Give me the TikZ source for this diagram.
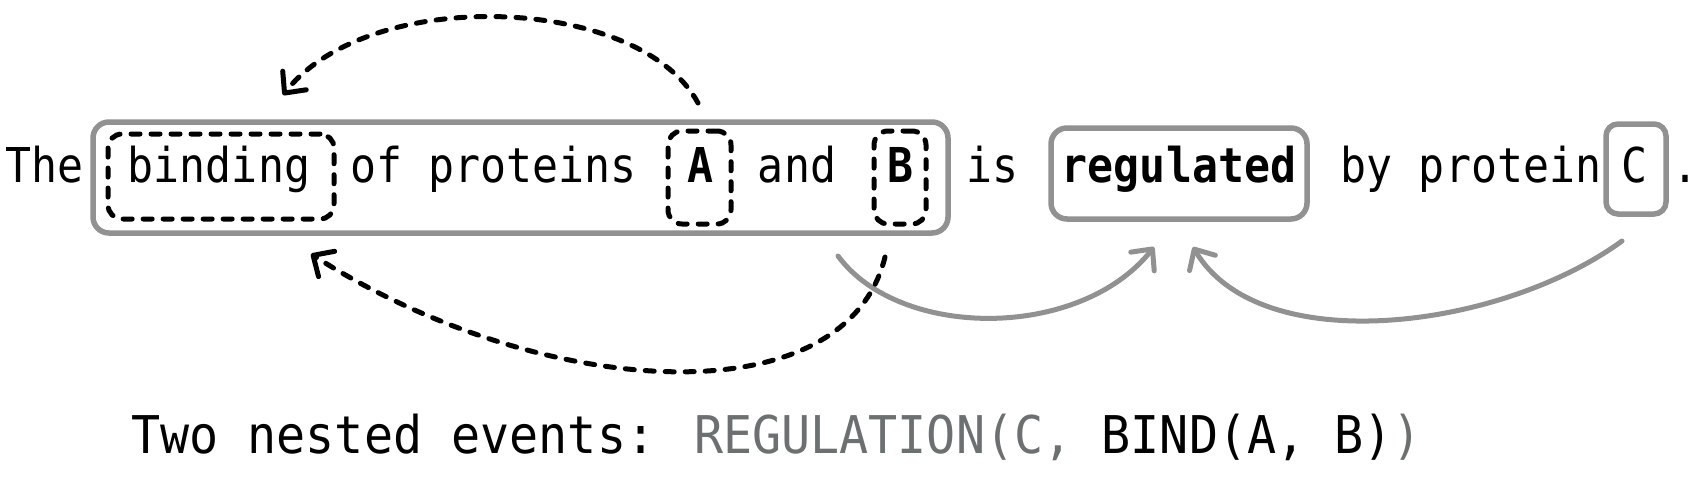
\documentclass[tikz,border=0pt]{standalone}
\usepackage{fontspec}
\usetikzlibrary{arrows.meta}
\newfontfamily\sentfont{DejaVu Sans Mono}[FakeStretch=0.9]
\newfontfamily\capfont{DejaVu Sans Mono}[FakeStretch=0.93]
\definecolor{boxgray}{RGB}{145,145,145}
\definecolor{fngray}{RGB}{108,112,112}
\begin{document}
\begin{tikzpicture}[x=1pt,y=-1pt,
  word/.style={anchor=base, inner sep=0pt, font=\sentfont\fontsize{48}{56}\selectfont},
  bword/.style={anchor=base, inner sep=0pt, font=\sentfont\bfseries\fontsize{48}{56}\selectfont},
  graybox/.style={draw=boxgray, line width=5.5pt, rounded corners=16pt, inner sep=0pt},
  dashbox/.style={draw=black, line width=5pt, rounded corners=14pt, inner sep=0pt, line cap=round, dash pattern=on 9pt off 11pt},
  dasharrow/.style={draw=black, line width=5pt, line cap=round, dash pattern=on 9pt off 11pt, -{Straight Barb[round,length=16pt,width=30pt]}},
  grayarrow/.style={draw=boxgray, line width=5pt, line cap=round, -{Straight Barb[round,length=16pt,width=30pt]}},
]
\useasboundingbox (0,0) rectangle (1696,482);
% boxes
\node[graybox, minimum width=855pt, minimum height=111pt] (big) at (520.5,177.5) {};
\node[dashbox, minimum width=226pt, minimum height=85pt] (bbind) at (221,176.5) {};
\node[dashbox, minimum width=63pt, minimum height=93pt] (bA) at (699.5,177.5) {};
\node[dashbox, minimum width=52pt, minimum height=93pt] (bB) at (900,177.5) {};
\node[graybox, minimum width=256pt, minimum height=91pt] (breg) at (1179,173.5) {};
\node[graybox, minimum width=60pt, minimum height=90pt, rounded corners=12pt] (bC) at (1636,169) {};
% words
\node[word] (wThe) at (44.5,182) {The};
\node[word] (wbind) at (219,182) {binding};
\node[word] (wof) at (493.5,182) {of proteins};
\node[bword] (wA) at (700.5,182) {A};
\node[word] (wand) at (797,182) {and};
\node[bword] (wB) at (900,182) {B};
\node[word] (wis) at (992,182) {is};
\node[bword] (wreg) at (1179,182) {regulated};
\node[word] (wby) at (1471,182) {by protein};
\node[word] (wC) at (1634,182) {C};
\node[word] (wdot) at (1685,182) {.};
% connector ends
\coordinate (s1) at (698,103);
\coordinate (t1) at (283,95);
\coordinate (s2) at (885,257);
\coordinate (t2) at (311,254);
\coordinate (s3) at (838,256);
\coordinate (t3) at (1154,247);
\coordinate (s4) at (1622,241);
\coordinate (t4) at (1193,247);
% gray arrows
\draw[grayarrow] (s3) .. controls (900,340) and (1080,340) .. (t3);
\draw[grayarrow] (s4) .. controls (1500,330) and (1260,360) .. (t4);
% dashed arrows
\draw[dasharrow] (s1) .. controls (640,-5) and (370,-15) .. (t1);
\draw[dasharrow] (s2) .. controls (845,420) and (540,400) .. (t2);
% caption
\node[anchor=base west, inner sep=0pt, font=\capfont\fontsize{52}{60}\selectfont] (cap) at (131,453) {Two nested events: \textcolor{fngray}{REGULATION(C, }BIND(A, B)\textcolor{fngray}{)}};
\end{tikzpicture}
\end{document}
